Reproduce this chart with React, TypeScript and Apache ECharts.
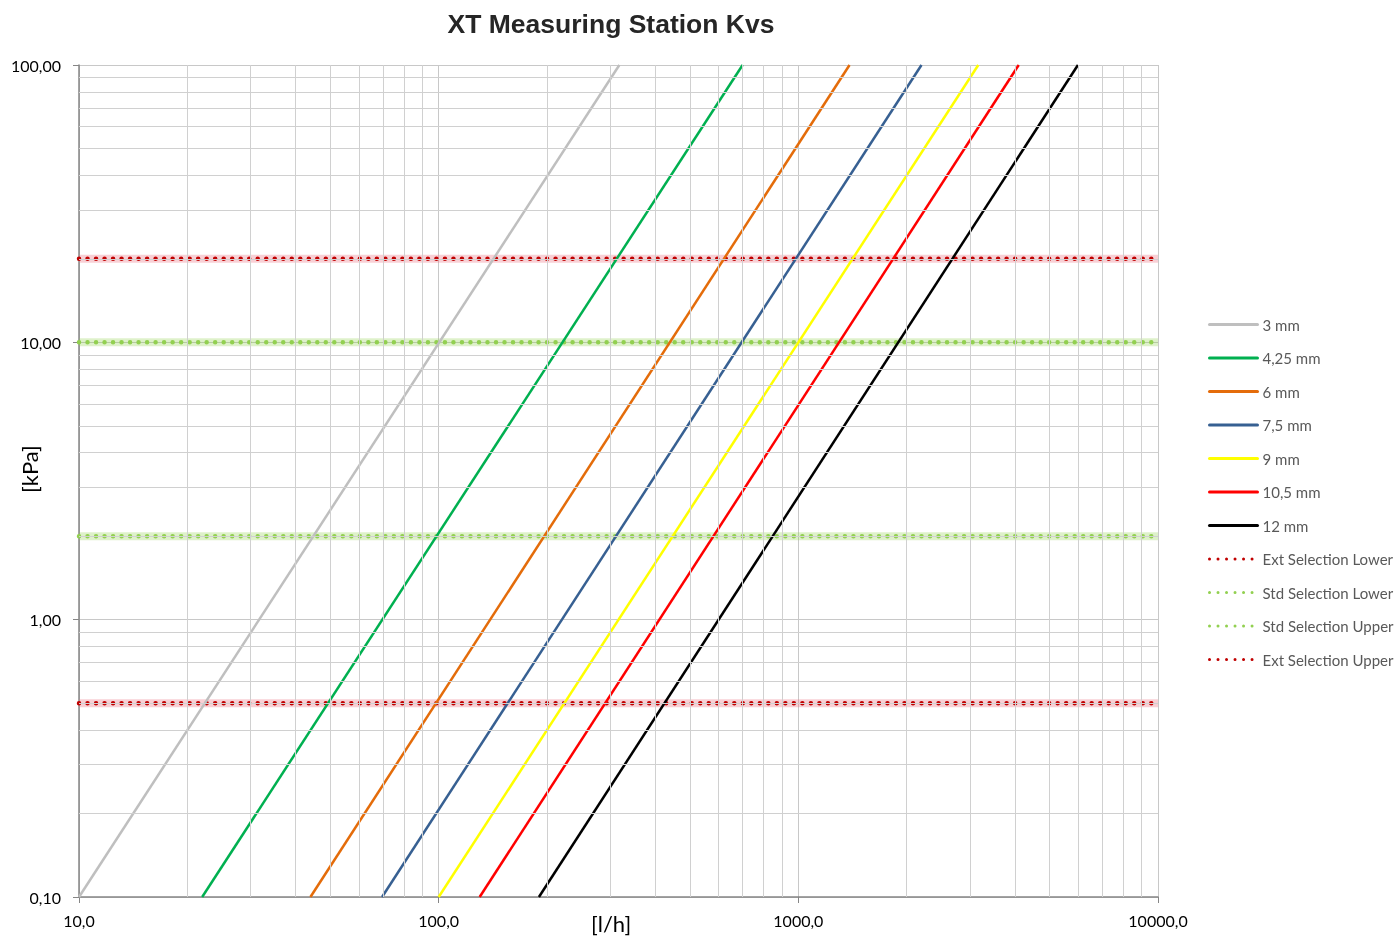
import React, { useEffect, useRef } from "react";
import * as echarts from "echarts";

// Flow [l/h] vs. pressure drop [kPa] – endpoints of each Kvs line
const seriesNames = ["3 mm", "4,25 mm", "6 mm", "7,5 mm", "9 mm", "10,5 mm", "12 mm"];
const seriesColors = ["#bfbfbf", "#00b050", "#e46c0a", "#376092", "#ffff00", "#ff0000", "#000000"];
const line3 = [[10, 0.1], [318, 100]];
const line425 = [[22, 0.1], [700, 100]];
const line6 = [[44, 0.1], [1388, 100]];
const line75 = [[69.6, 0.1], [2200, 100]];
const line9 = [[100, 0.1], [3165, 100]];
const line105 = [[130, 0.1], [4100, 100]];
const line12 = [[190, 0.1], [5990, 100]];
const lineData = [line3, line425, line6, line75, line9, line105, line12];

// Selection limits [kPa]
const limitNames = ["Ext Selection Lower", "Std Selection Lower", "Std Selection Upper", "Ext Selection Upper"];
const limitValues = [0.5, 2, 10, 20];
const limitColors = ["#c00000", "#92d050", "#92d050", "#c00000"];
const limitGlow = ["rgba(235,120,135,0.35)", "rgba(146,208,80,0.3)", "rgba(146,208,80,0.3)", "rgba(235,120,135,0.35)"];

const xRange = [10, 10000];
const yRange = [0.1, 100];
const xMinorGrid = [20, 30, 40, 50, 60, 70, 80, 90, 200, 300, 400, 500, 600, 700, 800, 900, 2000, 3000, 4000, 5000, 6000, 7000, 8000, 9000];
const yMinorGrid = [0.2, 0.3, 0.4, 0.5, 0.6, 0.7, 0.8, 0.9, 2, 3, 4, 5, 6, 7, 8, 9, 20, 30, 40, 50, 60, 70, 80, 90];

export default function App() {
  const ref = useRef<HTMLDivElement>(null);
  useEffect(() => {
    if (!ref.current) return;
    const chart = echarts.init(ref.current, null, { renderer: "svg" });
    const font = "Lato, 'Open Sans', sans-serif";

    const gridSeries: any = {
      type: "line",
      name: "__grid",
      data: [[10, 0.1]],
      symbol: "none",
      silent: true,
      lineStyle: { opacity: 0 },
      z: 1,
      markLine: {
        silent: true,
        symbol: ["none", "none"],
        label: { show: false },
        lineStyle: { color: "#d0d0d0", width: 1, type: "solid" },
        emphasis: { disabled: true },
        data: [
          ...xMinorGrid.map((v) => ({ xAxis: v })),
          ...yMinorGrid.map((v) => ({ yAxis: v })),
        ],
      },
    };

    const glowSeries = limitValues.map((v, i) => ({
      type: "line",
      name: "__glow" + i,
      data: [[xRange[0], v], [xRange[1], v]],
      symbol: "none",
      silent: true,
      lineStyle: { color: limitGlow[i], width: 8 },
      z: 2,
    }));

    const limitSeries = limitValues.map((v, i) => ({
      type: "line",
      name: limitNames[i],
      data: [[xRange[0], v], [xRange[1], v]],
      symbol: "none",
      color: limitColors[i],
      lineStyle: { color: limitColors[i], width: 4.5, type: [0.01, 8.5], cap: "round" },
      z: 3,
    }));

    const kvsSeries = lineData.map((d, i) => ({
      type: "line",
      name: seriesNames[i],
      data: d,
      symbol: "none",
      color: seriesColors[i],
      lineStyle: { color: seriesColors[i], width: 2.5 },
      z: 4,
    }));

    chart.setOption({
      animation: false,
      title: {
        text: "XT Measuring Station Kvs",
        left: 606,
        textAlign: "center",
        top: 5,
        textStyle: { fontFamily: "'Liberation Sans', Arial, sans-serif", fontWeight: "bold", fontSize: 26.5, color: "#262626" },
      },
      grid: { left: 79, right: 241, top: 65, bottom: 43, containLabel: false },
      xAxis: {
        type: "log",
        logBase: 10,
        min: xRange[0],
        max: xRange[1],
        axisLine: { show: true, lineStyle: { color: "#868686", width: 1.5 } },
        axisTick: { show: true, length: 6, lineStyle: { color: "#868686" } },
        axisLabel: {
          color: "#000",
          fontSize: 16,
          fontFamily: font,
          margin: 15,
          formatter: (v: number) => v.toFixed(1).replace(".", ","),
        },
        splitLine: { show: true, lineStyle: { color: "#c8c8c8", width: 1 } },
      },
      yAxis: {
        type: "log",
        logBase: 10,
        min: yRange[0],
        max: yRange[1],
        axisLine: { show: true, lineStyle: { color: "#868686", width: 1.5 } },
        axisTick: { show: true, length: 6, lineStyle: { color: "#868686" } },
        axisLabel: {
          color: "#000",
          fontSize: 16,
          fontFamily: font,
          margin: 18,
          formatter: (v: number) => v.toFixed(2).replace(".", ","),
        },
        splitLine: { show: true, lineStyle: { color: "#c8c8c8", width: 1 } },
      },
      legend: {
        orient: "vertical",
        left: 1203,
        top: 312,
        itemWidth: 48,
        itemHeight: 14,
        itemGap: 18.5,
        data: [...seriesNames, ...limitNames],
        itemStyle: { opacity: 0 },
        lineStyle: { cap: "round", width: 3 },
        textStyle: { color: "#595959", fontSize: 15, fontFamily: font },
        selectedMode: false,
      },
      graphic: [
        {
          type: "text",
          left: 591,
          top: 912,
          style: { text: "[l/h]", fontSize: 22, fontFamily: font, fill: "#000" },
        },
        {
          type: "text",
          x: 18,
          y: 493,
          rotation: Math.PI / 2,
          style: { text: "[kPa]", fontSize: 22, fontFamily: font, fill: "#000" },
        },
      ],
      series: [gridSeries, ...glowSeries, ...limitSeries, ...kvsSeries],
    });
    return () => chart.dispose();
  }, []);
  return <div ref={ref} style={{ position: "fixed", left: 0, top: 0, width: 1399, height: 940 }} />;
}
